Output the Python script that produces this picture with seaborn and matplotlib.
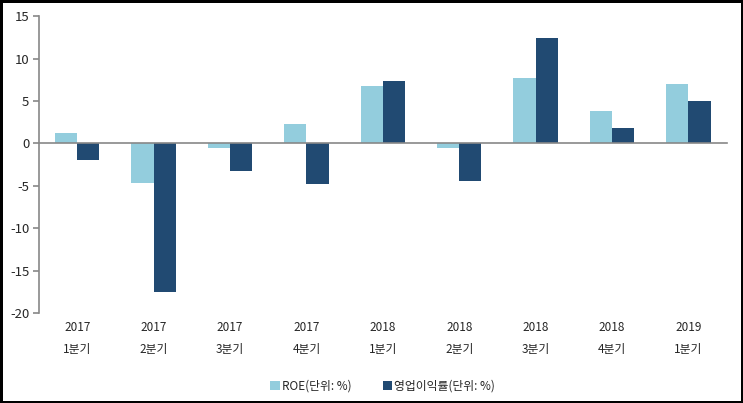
import pandas as pd
import numpy as np
import matplotlib
matplotlib.use("Agg")
import matplotlib.pyplot as plt
import seaborn as sns

# quarter labels and series values (%)
quarters = ["2017\n1분기", "2017\n2분기", "2017\n3분기", "2017\n4분기",
            "2018\n1분기", "2018\n2분기", "2018\n3분기", "2018\n4분기", "2019\n1분기"]
roe = [1.2, -4.7, -0.5, 2.3, 6.8, -0.5, 7.7, 3.8, 7.0]
op_margin = [-2.0, -17.5, -3.3, -4.8, 7.35, -4.45, 12.4, 1.8, 5.0]
series_names = ["ROE(단위: %)", "영업이익률(단위: %)"]

df = pd.DataFrame({
    "quarter": quarters * 2,
    "value": roe + op_margin,
    "series": [series_names[0]] * len(quarters) + [series_names[1]] * len(quarters),
})

sns.set_style("white")
plt.rcParams['font.family'] = ['Noto Sans CJK KR', 'DejaVu Sans']
plt.rcParams['axes.unicode_minus'] = False

fig = plt.figure(figsize=(7.43, 4.03), dpi=100)
fig.patch.set_edgecolor("black")
fig.patch.set_linewidth(2.5)
ax = fig.add_axes([0.0525, 0.2233, 0.9255, 0.7367])

sns.barplot(data=df, x="quarter", y="value", hue="series", ax=ax,
            palette=["#93CDDD", "#214A72"], width=0.58, saturation=1,
            dodge=True, legend=True, linewidth=0)

ax.set_ylim(-20, 15)
ax.set_yticks(np.arange(-20, 16, 5))
ax.set_xlim(-0.5, len(quarters) - 0.5)
ax.set_xlabel("")
ax.set_ylabel("")

# category axis drawn at zero, with tick marks at group boundaries
ax.spines['top'].set_visible(False)
ax.spines['right'].set_visible(False)
ax.spines['bottom'].set_position(('data', 0))
for s in ['left', 'bottom']:
    ax.spines[s].set_color("#888888")
    ax.spines[s].set_linewidth(1.2)
ax.set_xticks(np.arange(-0.5, len(quarters), 1.0), minor=True)
ax.set_xticks([])
ax.tick_params(axis='x', which='minor', direction='out', length=4,
               color="#888888", width=1.2)
ax.tick_params(axis='y', direction='out', length=4, color="#888888",
               width=1.2, labelsize=9.5, pad=3, left=True)

# labels live at the bottom of the plot area
sec = ax.secondary_xaxis(0.0)
sec.set_xticks(range(len(quarters)), quarters)
sec.tick_params(length=0, labelsize=8.5, pad=6)
sec.spines['bottom'].set_visible(False)
for t in sec.get_xticklabels():
    t.set_linespacing(1.9)

leg = ax.legend(loc="lower center", bbox_to_anchor=(0.5, -0.305), ncol=2,
                frameon=False, fontsize=8.5, handlelength=0.8, handleheight=0.8,
                handletextpad=0.2, columnspacing=2.6)

fig.savefig("out.png", dpi=100)
